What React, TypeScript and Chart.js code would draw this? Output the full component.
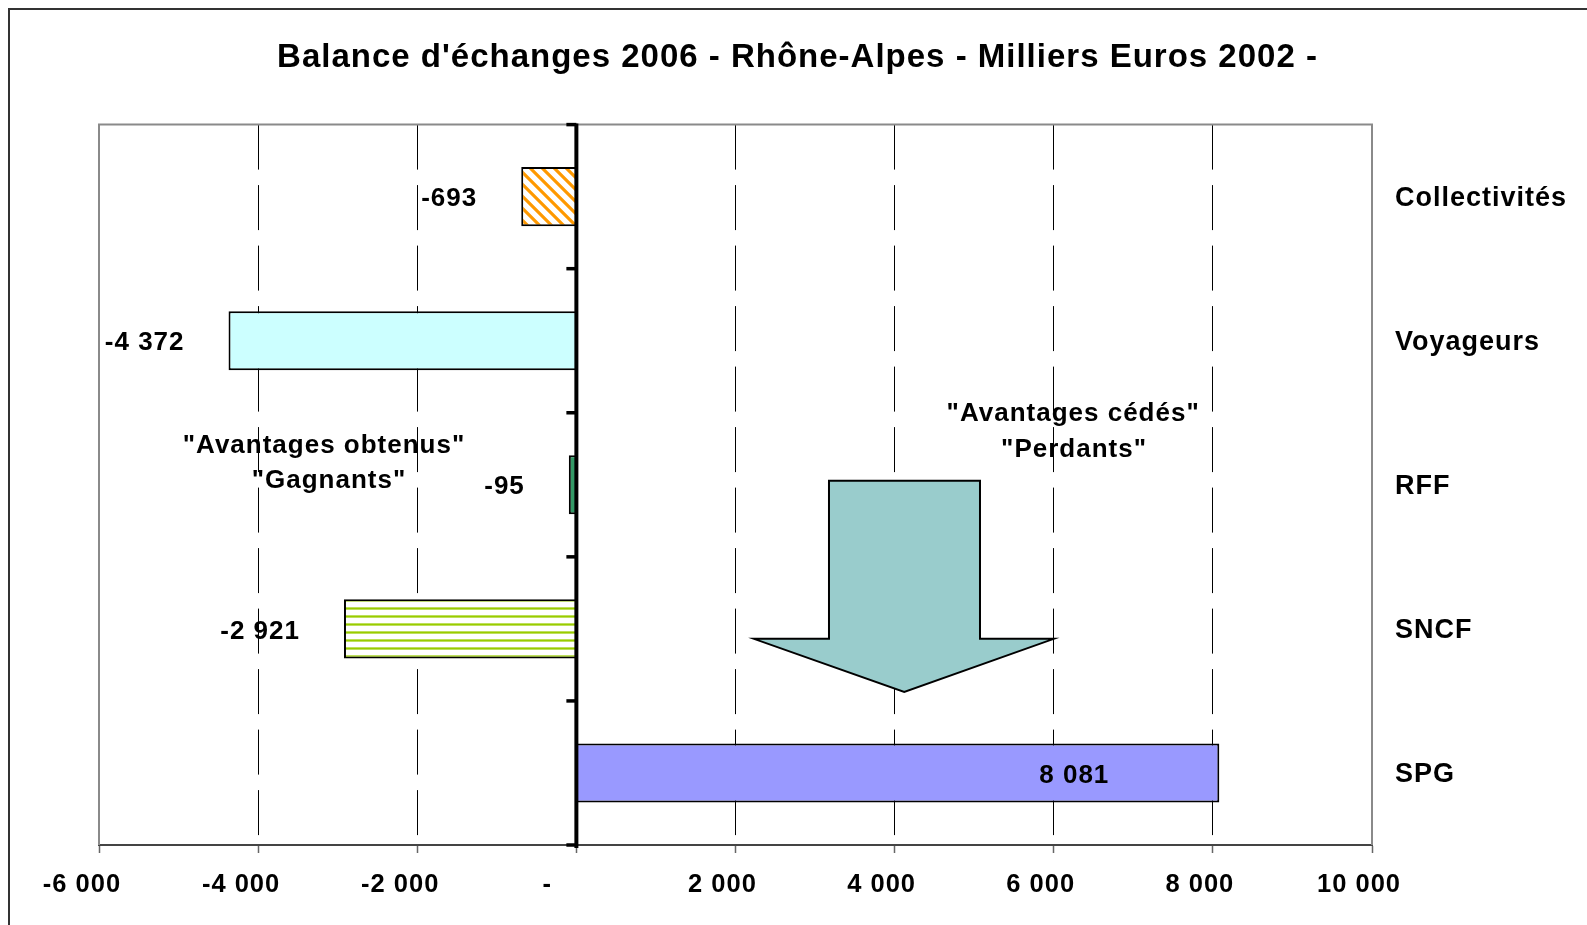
import React, { useEffect, useRef } from 'react';
import { Chart, registerables } from 'chart.js';

Chart.register(...registerables);

// ---------- data ----------
const categories = ['Collectivités', 'Voyageurs', 'RFF', 'SNCF', 'SPG'];
const values = [-693, -4372, -95, -2921, 8081];
const xMin = -6000;
const xMax = 10000;
const xStep = 2000;
const barFills = ['hatch', '#CCFFFF', '#339966', 'lines', '#9999FF'];

const titleText = "Balance d'échanges 2006 - Rhône-Alpes - Milliers Euros 2002 -";

// annotation texts, anchored in value space (x value, category index)
const noteLines = ['"Avantages obtenus"', '"Gagnants"', '"Avantages cédés"', '"Perdants"'];
const noteX = [-3172, -3110, 6244, 6255];
const noteY = [1.71, 1.958, 1.493, 1.743];

// block arrow outline, in value space
const arrowX = [3175, 5073, 5073, 6000, 4121, 2232, 3175];
const arrowY = [1.972, 1.972, 3.069, 3.069, 3.438, 3.069, 3.069];

const FONT = '"Liberation Sans", Arial, Helvetica, sans-serif';
const TEXT_DY = 2.5;

function fmt(v: number): string {
  const s = Math.abs(Math.round(v)).toString().replace(/\B(?=(\d{3})+(?!\d))/g, ' ');
  return (v < 0 ? '-' : '') + s;
}

function makeHatch(ctx: CanvasRenderingContext2D) {
  const N = 12;
  const W = 4.5;
  const c = document.createElement('canvas');
  c.width = N;
  c.height = N;
  const g = c.getContext('2d')!;
  const img = g.createImageData(N, N);
  const o = [255, 153, 0];
  for (let y = 0; y < N; y++) {
    for (let x = 0; x < N; x++) {
      let cov = 0;
      for (let sy = 0; sy < 4; sy++) {
        for (let sx = 0; sx < 4; sx++) {
          const px = x + (sx + 0.5) / 4;
          const py = y + (sy + 0.5) / 4;
          const d = (((px - py) % N) + N) % N;
          if (d < W) cov++;
        }
      }
      const a = cov / 16;
      const k = (y * N + x) * 4;
      img.data[k] = Math.round(255 * (1 - a) + o[0] * a);
      img.data[k + 1] = Math.round(255 * (1 - a) + o[1] * a);
      img.data[k + 2] = Math.round(255 * (1 - a) + o[2] * a);
      img.data[k + 3] = 255;
    }
  }
  g.putImageData(img, 0, 0);
  return ctx.createPattern(c, 'repeat');
}

function makeLines(ctx: CanvasRenderingContext2D) {
  const rows = ['#99CC00', '#BEDF5C', '#FFFFFF', '#FFFFFF', '#FFFFFF', '#FFFFFF', '#FFFFFF', '#BEDF5C'];
  const c = document.createElement('canvas');
  c.width = 8;
  c.height = rows.length;
  const g = c.getContext('2d')!;
  rows.forEach((col, i) => {
    g.fillStyle = col;
    g.fillRect(0, i, 8, 1);
  });
  return ctx.createPattern(c, 'repeat');
}

const decor = {
  id: 'decor',
  beforeDraw(chart: any) {
    const ctx = chart.ctx;
    ctx.letterSpacing = '1px';
    ctx.save();
    ctx.fillStyle = '#ffffff';
    ctx.fillRect(0, 0, chart.width, chart.height);
    ctx.strokeStyle = '#333333';
    ctx.lineWidth = 2;
    ctx.beginPath();
    ctx.moveTo(1, chart.height);
    ctx.lineTo(1, 0);
    ctx.moveTo(0, 1);
    ctx.lineTo(chart.width, 1);
    ctx.stroke();
    ctx.restore();
  },
  beforeDatasetsDraw(chart: any) {
    const ctx = chart.ctx;
    const a = chart.chartArea;
    ctx.save();
    ctx.strokeStyle = '#8a8a8a';
    ctx.lineWidth = 2;
    ctx.beginPath();
    ctx.moveTo(a.left, a.bottom);
    ctx.lineTo(a.left, a.top);
    ctx.lineTo(a.right, a.top);
    ctx.lineTo(a.right, a.bottom);
    ctx.stroke();
    ctx.restore();
  },
  afterDatasetsDraw(chart: any) {
    const ctx = chart.ctx;
    const a = chart.chartArea;
    const xs = chart.scales.x;
    const ys = chart.scales.y;
    ctx.save();

    // vertical category axis at zero
    const x0 = xs.getPixelForValue(0);
    ctx.strokeStyle = '#000';
    ctx.lineWidth = 4;
    ctx.beginPath();
    ctx.moveTo(x0, a.top - 1);
    ctx.lineTo(x0, a.bottom + 3);
    ctx.stroke();
    ctx.lineWidth = 3.5;
    for (let i = 0; i <= categories.length; i++) {
      const y = ys.getPixelForValue(i - 0.5);
      ctx.beginPath();
      ctx.moveTo(x0 - 10, y);
      ctx.lineTo(x0, y);
      ctx.stroke();
    }

    // block arrow
    ctx.beginPath();
    arrowX.forEach((v, i) => {
      const px = xs.getPixelForValue(v);
      const py = ys.getPixelForValue(arrowY[i]);
      if (i === 0) ctx.moveTo(px, py);
      else ctx.lineTo(px, py);
    });
    ctx.closePath();
    ctx.fillStyle = '#99CCCC';
    ctx.fill();
    ctx.lineWidth = 2;
    ctx.lineJoin = 'miter';
    ctx.strokeStyle = '#000';
    ctx.stroke();

    // data labels
    const meta = chart.getDatasetMeta(0);
    ctx.font = `bold 26px ${FONT}`;
    ctx.fillStyle = '#000';
    ctx.textAlign = 'right';
    ctx.textBaseline = 'middle';
    meta.data.forEach((bar: any, i: number) => {
      const v = values[i];
      const p = bar.getProps(['x', 'y'], true);
      const off = v < 0 ? 44 : 110;
      ctx.fillText(fmt(v), p.x - off, p.y + TEXT_DY);
    });

    // annotations
    ctx.textAlign = 'center';
    noteLines.forEach((t, i) => {
      ctx.fillText(t, xs.getPixelForValue(noteX[i]), ys.getPixelForValue(noteY[i]) + TEXT_DY);
    });
    ctx.restore();
  },
  afterDraw(chart: any) {
    chart.ctx.letterSpacing = '0px';
  },
};

export default function App() {
  const ref = useRef<HTMLCanvasElement>(null);

  useEffect(() => {
    const canvas = ref.current!;
    const ctx = canvas.getContext('2d')!;
    const fills = barFills.map((f) =>
      f === 'hatch' ? makeHatch(ctx) : f === 'lines' ? makeLines(ctx) : f
    );
    const hidden = [xMin, 0, xMax];

    const chart = new Chart(canvas, {
      type: 'bar',
      data: {
        labels: categories,
        datasets: [
          {
            data: values,
            xAxisID: 'x',
            yAxisID: 'y',
            backgroundColor: fills as any,
            borderColor: '#000',
            borderWidth: 2,
            barPercentage: 0.41,
            categoryPercentage: 1,
          },
        ],
      },
      plugins: [decor],
      options: {
        indexAxis: 'y',
        animation: false,
        responsive: false,
        devicePixelRatio: 1,
        events: [],
        layout: { padding: 0 },
        plugins: {
          legend: { display: false },
          tooltip: { enabled: false },
          title: {
            display: true,
            text: titleText,
            color: '#000',
            font: { family: FONT, size: 33, weight: 'bold' },
            padding: { top: 30, bottom: 47 },
          },
        },
        scales: {
          x: {
            type: 'linear',
            position: 'bottom',
            min: xMin,
            max: xMax,
            ticks: {
              stepSize: xStep,
              autoSkip: false,
              maxRotation: 0,
              color: '#000',
              font: { family: FONT, size: 25.5, weight: 'bold' },
              padding: 17,
              labelOffset: -13,
              callback: (v: any) => {
                const n = Number(v);
                if (n === 0) return '-    ';
                return n < 0 ? fmt(n) + ' ' : fmt(n);
              },
            },
            grid: {
              color: (c: any) => (c.tick && hidden.includes(c.tick.value) ? 'rgba(0,0,0,0)' : '#000'),
              lineWidth: 1,
              drawTicks: true,
              tickLength: 8,
              tickColor: '#666',
              tickWidth: 1.5,
              tickBorderDash: [],
            },
            border: { display: true, color: '#444', width: 2, dash: [45, 15.5] },
            afterFit: (s: any) => {
              s.height = 80;
            },
          },
          yl: {
            type: 'category',
            position: 'left',
            display: true,
            grid: { display: false, drawTicks: false },
            border: { display: false },
            ticks: { display: false },
            afterFit: (s: any) => {
              s.width = 91;
            },
          },
          y: {
            type: 'category',
            position: 'right',
            offset: true,
            grid: { display: false, drawTicks: false },
            border: { display: false },
            ticks: {
              color: '#000',
              font: { family: FONT, size: 27, weight: 'bold' },
              padding: 23,
              crossAlign: 'near',
              labelOffset: 2,
            },
            afterFit: (s: any) => {
              s.width = 215;
            },
          },
        },
      } as any,
    });
    return () => chart.destroy();
  }, []);

  return (
    <div style={{ position: 'fixed', left: 8, top: 8, width: 1579, height: 917 }}>
      <canvas ref={ref} width={1579} height={917} style={{ display: 'block', width: 1579, height: 917 }} />
    </div>
  );
}
